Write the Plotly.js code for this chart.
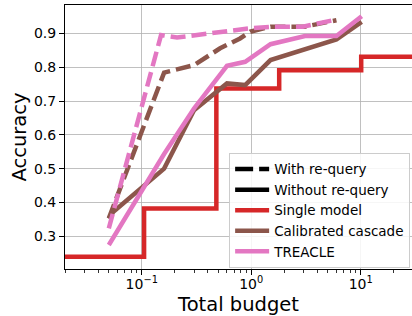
<!DOCTYPE html>
<html>
<head>
<meta charset="utf-8">
<script src="https://cdn.plot.ly/plotly-3.0.1.min.js"></script>
<style>html,body{margin:0;padding:0;background:#fff;overflow:hidden;}#chart{width:412px;height:316px;}</style>
</head>
<body>
<div id="chart"></div>
<script>
// ---- data ----
const singleX = [0.01, 0.105, 0.48, 1.8, 10.1, 60];
const singleY = [0.239, 0.382, 0.737, 0.791, 0.831, 0.831];

const cascadeX = [0.05, 0.055, 0.16, 0.3, 0.6, 0.88, 1.5, 6.0, 10.2];
const cascadeY = [0.352, 0.372, 0.5, 0.673, 0.752, 0.747, 0.821, 0.882, 0.934];

const cascadeReqX = [0.05, 0.16, 0.3, 0.52, 0.79, 0.98, 1.5, 3.1, 6.0];
const cascadeReqY = [0.353, 0.784, 0.806, 0.856, 0.885, 0.905, 0.92, 0.92, 0.939];

const treacleX = [0.05, 0.16, 0.3, 0.6, 0.88, 1.5, 3.1, 6.0, 10.2];
const treacleY = [0.274, 0.543, 0.678, 0.804, 0.816, 0.868, 0.892, 0.892, 0.951];

const treacleReqX = [0.05, 0.15, 0.21, 0.58, 0.98, 1.58, 2.96, 5.8];
const treacleReqY = [0.323, 0.895, 0.888, 0.907, 0.915, 0.92, 0.92, 0.94];

const legendNames = ["With re-query", "Without re-query", "Single model", "Calibrated cascade", "TREACLE"];
const xTickVals = [0.1, 1, 10];
const xTickText = ["10<sup>\u22121</sup>", "10<sup>0</sup>", "10<sup>1</sup>"];
const yTickVals = [0.3, 0.4, 0.5, 0.6, 0.7, 0.8, 0.9];

// ---- styles ----
const RED = "#d62728", BROWN = "#8c564b", PINK = "#e377c2";
const LW = 4.5;
const DASH = "15px,6px";
const FONT = "DejaVu Sans";

const minorVals = [];
for (let d = -2; d <= 1; d++) for (let k = 2; k <= 9; k++) minorVals.push(k * Math.pow(10, d));

const traces = [
  {x: singleX, y: singleY, mode: "lines", line: {color: RED, width: LW, shape: "hv"}, showlegend: false, hoverinfo: "skip"},
  {x: cascadeX, y: cascadeY, mode: "lines", line: {color: BROWN, width: LW}, showlegend: false},
  {x: cascadeReqX, y: cascadeReqY, mode: "lines", line: {color: BROWN, width: LW, dash: DASH}, showlegend: false},
  {x: treacleX, y: treacleY, mode: "lines", line: {color: PINK, width: LW}, showlegend: false},
  {x: treacleReqX, y: treacleReqY, mode: "lines", line: {color: PINK, width: LW, dash: DASH}, showlegend: false},
  // legend-only entries
  {x: [null], y: [null], mode: "lines", name: legendNames[0], line: {color: "#000", width: LW, dash: "18px,6px"}},
  {x: [null], y: [null], mode: "lines", name: legendNames[1], line: {color: "#000", width: LW}},
  {x: [null], y: [null], mode: "lines", name: legendNames[2], line: {color: RED, width: LW}},
  {x: [null], y: [null], mode: "lines", name: legendNames[3], line: {color: BROWN, width: LW}},
  {x: [null], y: [null], mode: "lines", name: legendNames[4], line: {color: PINK, width: LW}}
];

const layout = {
  width: 412, height: 316,
  margin: {l: 65, r: 0, t: 5, b: 47},
  paper_bgcolor: "#fff", plot_bgcolor: "#fff",
  font: {family: FONT, size: 14, color: "#000"},
  showlegend: true,
  legend: {
    x: 0.473, y: 0.44, xanchor: "left", yanchor: "top",
    bgcolor: "rgba(255,255,255,0.85)", bordercolor: "#cccccc", borderwidth: 1,
    font: {family: FONT, size: 13.5, color: "#000"},
    tracegroupgap: 0, itemwidth: 34
  },
  xaxis: {
    type: "log",
    range: [Math.log10(0.0199), Math.log10(29.4)],
    tickmode: "array", tickvals: xTickVals, ticktext: xTickText,
    ticks: "outside", ticklen: 5, tickwidth: 1, tickcolor: "#000",
    ticklabelstandoff: -3,
    showgrid: true, gridcolor: "#b0b0b0", gridwidth: 0.8,
    showline: true, linecolor: "#000", linewidth: 1, mirror: true,
    zeroline: false,
    tickfont: {family: FONT, size: 14, color: "#000"},
    minor: {tickmode: "array", tickvals: minorVals, ticks: "outside", ticklen: 3, tickwidth: 0.8, tickcolor: "#000", showgrid: false},
    title: {text: "Total budget", font: {family: FONT, size: 19.5, color: "#000"}, standoff: 8}
  },
  yaxis: {
    range: [0.203, 0.984],
    tickmode: "array", tickvals: yTickVals,
    ticks: "outside", ticklen: 5, tickwidth: 1, tickcolor: "#000",
    ticklabelstandoff: 0,
    showgrid: true, gridcolor: "#b0b0b0", gridwidth: 0.8,
    showline: true, linecolor: "#000", linewidth: 1, mirror: false,
    zeroline: false,
    tickfont: {family: FONT, size: 14, color: "#000"},
    title: {text: "Accuracy", font: {family: FONT, size: 19.5, color: "#000"}, standoff: 2}
  }
};

Plotly.newPlot("chart", traces, layout, {staticPlot: true, displayModeBar: false});
</script>
</body>
</html>
